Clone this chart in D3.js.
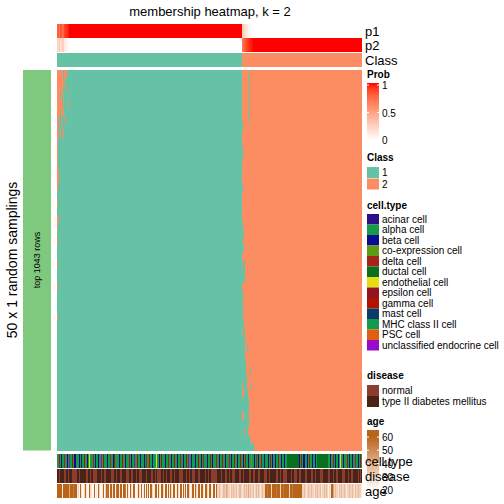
<!DOCTYPE html>
<html><head><meta charset="utf-8">
<script src="https://cdn.jsdelivr.net/npm/d3@7"></script>
<style>body{margin:0;background:#fff}svg{display:block}text{font-family:"Liberation Sans",Arial,sans-serif}</style>
</head><body>
<script>
// ---------------- data ----------------
const nClass1 = 185, nClass2 = 120;           // columns per consensus class
const nRows = 50;                              // random samplings
const p1HeadClass1 = [0.78,0.80,0.70,0.85,0.82,0.72,0.75,0.88,0.90,0.93,0.95,0.97];
const p1HeadClass2 = [0.30,0.25,0.22,0.15,0.12,0.10,0.07,0.05,0.03,0.02,0.01];
// per row: class-1 columns that were assigned to class 2 (intervals)
const leftOrange = [
 [[0,5],[7,9]],[[0,7]],[[0,5],[9,9]],[[0,2],[4,4],[6,6]],[[0,4],[6,6],[11,11]],
 [[0,2],[4,6]],[[0,1],[4,4],[7,7]],[[0,0],[2,2],[5,5]],[[0,1],[3,3],[6,6]],[[0,0]],
 [[0,0]],[[0,0]],[[0,0]],[[0,1]],[[0,1]],
 [[0,0]],[],[[0,0]],[],[[0,1]],[[0,0]],[],[[0,0]],[],[],
 [[0,0]],[],[],[[0,0]],[],[],[],[[0,0]],[],[],
 [],[],[],[],[],[],[],[],[],[],[],[],[],[],[]
];
// per row: number of leading class-2 columns assigned to class 1
const extraTeal = [0,0,0,0,0,0,0,1,0,0,1,1,0,0,0,1,0,0,0,0,1,2,1,2,1,3,3,3,0,1,1,1,1,2,3,3,3,3,4,4,5,5,6,7,7,7,7,6,8,12];
// per row: isolated class-2 columns assigned to class 1 (offset in class 2)
const isolatedTeal = {0:[7],1:[7],2:[7],3:[7],4:[7],5:[7],6:[7],36:[5],39:[8],41:[9]};
// per row: class-2 offsets inside the teal run that stay class 2
const tealGaps = {24:[0],25:[0],34:[0],41:[0],42:[0,1],45:[0,1],47:[3]};

const cellTypeNames = ["acinar cell","alpha cell","beta cell","co-expression cell","delta cell","ductal cell","endothelial cell","epsilon cell","gamma cell","mast cell","MHC class II cell","PSC cell","unclassified endocrine cell"];
const cellTypeCodes = ["a","A","b","c","d","D","e","E","g","m","M","p","u"];
const cellTypeColors = ["#2F0F88","#169B4B","#0B0B91","#5E9A12","#A6231A","#0A7020","#E6DC14","#921423","#B01400","#0C3A6A","#12994C","#E06010","#9A0ACA"];
const cellTypeSeq =
 "AAgAbAAdAAbAuAAgAbbA"+"AAbAaAAgAAbAeAAAdAbA"+"AbAAuAgAAAbAAdAAbgAA"+"AAbAAgAAbAAAdAbAAuAA"+
 "gAAbAAAbAdAAgAAbAAAe"+"AAbAgAAAbAAdAAbAAgAA"+"bAAdAAbAAgAuAAbAAAbA"+"AgAAbAdAAAbAAgAbAAAd"+
 "AAbAAgAAbAAAdAbAAgAA"+"bAAgA"+
 "AbAgAAbAAcAAbAdAbAAg"+"AAbAAAbAgAbAAbAAgAAbAAbAA"+"DDDDDDDDDDDD"+"bAgAbbAAbAgAAbAAbA"+
 "DDDDDDDDDDD"+"AAbAAgAbAAbAeAAbAAAgAbAAbAAdAAbAgA";
const diseaseNames = ["normal","type II diabetes mellitus"];
const diseaseColors = ["#8B3E30","#4A2318"];
const diseaseSeq =
 "ttnttttnnttntttnnnnnttnttttttnnttnttnnnnttttnttnntt"+"tttnnnttntttnnttttnnnttnntttnttnnnttttnttttnnttnt"+
 "nnnnttnttntttnnttnttttnnnntttnttnttnnntttnntttttn"+"ttnttnnnnnnttttntttnnttnttnnnttttnnttntttttnnttnn"+
 "tttnnttttnnnttnttttttnnttnttnnnnttttnttnnnttnnttt"+"tnnttttnnttnttttnnntttttnntttnttnnttttnnntttnttnnt"+
 "ttttntnt";
const ageCodes = {A:22,B:26,C:31,D:37,E:43,F:48,G:55,H:60};
const ageSeq =
 "HHHHHBHHHHHHEHHHGHHH"+"BCAHBAACHBAAHCBAAHAB"+"AHCAABHAC"+"HGHAHHBHHAGHHBHHAHHG"+
 "AHBAHCAHHAABHCAHABHA"+"HBHAHHCABHHAHBAHHCAH"+"HAHBHCAHHABHCAHHAHBH"+
 "AHHCABHHAHCBHHAHHBAH"+"HCAHHBAHHAHC"+"CDCBCDDCEDCCBDCDCCDB"+"CDDCBCDCDCECDCCDBCDC"+
 "DCBCDCCHHGHHHCHHHHGH"+"HHCHHGHHHHHCHHGHHHHH"+"HHHHCCDCBCDCCDCCBDCD"+"CCDBCCDCDC"+"ACBHHE"+
 "CDCCBDCDCCDCBCCDCCDCBDCCDCCB";

// ---------------- layout ----------------
const W = 504, H = 504;
const X0 = 57, X1 = 362;
const colTeal = "#66C2A5", colOrange = "#FC8D62";
const svg = d3.select("body").append("svg").attr("width", W).attr("height", H);

const nCol = nClass1 + nClass2;
const cols = d3.range(nCol);
const x = d3.scaleBand().domain(cols).range([X0, X1]);
const rows = d3.range(nRows);
const y = d3.scaleBand().domain(rows).range([70, 450.5]);
const probColor = d3.scaleLinear().domain([0,1]).range(["#ffffff","#ff0000"]).interpolate(d3.interpolateLab);

const p1 = cols.map(c => c < nClass1 ? (c < p1HeadClass1.length ? p1HeadClass1[c] : 1)
                                      : ((c-nClass1) < p1HeadClass2.length ? p1HeadClass2[c-nClass1] : 0));
const p2 = p1.map(v => 1 - v);
const consensus = cols.map(c => c < nClass1 ? 1 : 2);

// title
svg.append("text").attr("x", 210).attr("y", 16).attr("text-anchor","middle").attr("font-size", 13).text("membership heatmap, k = 2");

// top annotations
const annTop = [{name:"p1", vals:p1, y0:24, y1:38}, {name:"p2", vals:p2, y0:38, y1:52}];
annTop.forEach(a => {
  svg.append("g").attr("shape-rendering","crispEdges").selectAll("rect").data(cols).join("rect")
    .attr("x", c => x(c)).attr("width", x.bandwidth()+0.4)
    .attr("y", a.y0).attr("height", a.y1 - a.y0)
    .attr("fill", c => probColor(a.vals[c]));
  svg.append("text").attr("x", 365).attr("y", (a.y0+a.y1)/2 + 5).attr("font-size", 13).text(a.name);
});
svg.append("g").attr("shape-rendering","crispEdges").selectAll("rect").data(cols).join("rect")
  .attr("x", c => x(c)).attr("width", x.bandwidth()+0.4)
  .attr("y", 53).attr("height", 13.7)
  .attr("fill", c => consensus[c] === 1 ? colTeal : colOrange);
svg.append("text").attr("x", 365).attr("y", 65).attr("font-size", 13).text("Class");

// main matrix
function rowClasses(r) {
  const cl = consensus.slice();
  (leftOrange[r] || []).forEach(([a,b]) => { for (let c=a;c<=b;c++) cl[c] = 2; });
  for (let k=0;k<extraTeal[r];k++) cl[nClass1+k] = 1;
  (tealGaps[r] || []).forEach(k => { cl[nClass1+k] = 2; });
  (isolatedTeal[r] || []).forEach(k => { cl[nClass1+k] = 1; });
  return cl;
}
const gMain = svg.append("g").attr("shape-rendering","crispEdges");
rows.forEach(r => {
  const cl = rowClasses(r);
  const runs = [];
  let start = 0;
  for (let c=1;c<=nCol;c++) {
    if (c === nCol || cl[c] !== cl[start]) { runs.push({s:start, e:c-1, k:cl[start]}); start = c; }
  }
  gMain.append("g").selectAll("rect").data(runs).join("rect")
    .attr("x", d => x(d.s)).attr("width", d => x(d.e) + x.bandwidth() - x(d.s) + 0.3)
    .attr("y", y(r)).attr("height", y.bandwidth() + 0.5)
    .attr("fill", d => d.k === 1 ? colTeal : colOrange);
});

// left row-group bar
svg.append("rect").attr("x", 23).attr("y", 70).attr("width", 28).attr("height", 380.5).attr("fill", "#7FC97F");
svg.append("text").attr("transform","translate(40,260) rotate(-90)").attr("text-anchor","middle").attr("font-size", 9).text("top 1043 rows");
svg.append("text").attr("transform","translate(17,260) rotate(-90)").attr("text-anchor","middle").attr("font-size", 14).text("50 x 1 random samplings");

// bottom annotations
const ctColor = d3.scaleOrdinal().domain(cellTypeCodes).range(cellTypeColors);
const dsColor = d3.scaleOrdinal().domain(["n","t"]).range(diseaseColors);
const ageColor = d3.scaleLinear().domain([20,60]).range(["#ffffff","#B8651A"]).interpolate(d3.interpolateLab).clamp(true);
const ct = cellTypeSeq.split(""), ds = diseaseSeq.split(""), ag = ageSeq.split("").map(ch => ageCodes[ch]);
const bottom = [
  {name:"cell.type", y0:454, fill: c => ctColor(ct[c])},
  {name:"disease", y0:469, fill: c => dsColor(ds[c])},
  {name:"age", y0:484, fill: c => ageColor(ag[c])}
];
bottom.forEach(b => {
  svg.append("g").attr("shape-rendering","crispEdges").selectAll("rect").data(cols).join("rect")
    .attr("x", c => x(c)).attr("width", x.bandwidth()+0.4)
    .attr("y", b.y0).attr("height", 14)
    .attr("fill", b.fill);
});

// legends
const LX = 367;
function title(t, yy) { svg.append("text").attr("x", LX).attr("y", yy).attr("font-size", 10).attr("font-weight","bold").text(t); }
// Prob
title("Prob", 78);
const defs = svg.append("defs");
const gp = defs.append("linearGradient").attr("id","gprob").attr("x1",0).attr("x2",0).attr("y1",1).attr("y2",0);
d3.range(0,1.01,0.1).forEach(t => gp.append("stop").attr("offset", t).attr("stop-color", probColor(t)));
const probY = d3.scaleLinear().domain([0,1]).range([140, 85]);
svg.append("rect").attr("x", LX).attr("y", 83).attr("width", 12).attr("height", 57).attr("fill","url(#gprob)");
[0,0.5,1].forEach(v => {
  svg.append("line").attr("x1",LX).attr("x2",LX+2).attr("y1",probY(v)).attr("y2",probY(v)).attr("stroke","#fff");
  svg.append("line").attr("x1",LX+10).attr("x2",LX+12).attr("y1",probY(v)).attr("y2",probY(v)).attr("stroke","#fff");
  svg.append("text").attr("x", LX+15).attr("y", probY(v)+4).attr("font-size",10).text(v);
});
// Class
title("Class", 161);
[["1",colTeal],["2",colOrange]].forEach((d,i) => {
  svg.append("rect").attr("x",LX).attr("y",167+i*11.5).attr("width",12).attr("height",11).attr("fill",d[1]);
  svg.append("text").attr("x",LX+15).attr("y",176+i*11.5).attr("font-size",10).text(d[0]);
});
// cell.type
title("cell.type", 209);
cellTypeNames.forEach((n,i) => {
  svg.append("rect").attr("x",LX).attr("y",214+i*10.5).attr("width",12).attr("height",10.5).attr("fill",cellTypeColors[i]);
  svg.append("text").attr("x",LX+15).attr("y",222.5+i*10.5).attr("font-size",10).text(n);
});
// disease
title("disease", 379);
diseaseNames.forEach((n,i) => {
  svg.append("rect").attr("x",LX).attr("y",385+i*11).attr("width",12).attr("height",11).attr("fill",diseaseColors[i]);
  svg.append("text").attr("x",LX+15).attr("y",394+i*11).attr("font-size",10).text(n);
});
// age
title("age", 425);
const ga = defs.append("linearGradient").attr("id","gage").attr("x1",0).attr("x2",0).attr("y1",1).attr("y2",0);
const ageY = d3.scaleLinear().domain([20,60]).range([490, 437]);
d3.range(0,1.01,0.1).forEach(t => ga.append("stop").attr("offset", t).attr("stop-color", ageColor(ageY.invert(494 - t*64))));
svg.append("rect").attr("x", LX).attr("y", 430).attr("width", 12).attr("height", 64).attr("fill","url(#gage)");
[20,30,40,50,60].forEach(v => {
  svg.append("line").attr("x1",LX).attr("x2",LX+2).attr("y1",ageY(v)).attr("y2",ageY(v)).attr("stroke","#fff");
  svg.append("line").attr("x1",LX+10).attr("x2",LX+12).attr("y1",ageY(v)).attr("y2",ageY(v)).attr("stroke","#fff");
  svg.append("text").attr("x", LX+15).attr("y", ageY(v)+4).attr("font-size",10).text(v);
});
// bottom annotation names
bottom.forEach(b => svg.append("text").attr("x", 365).attr("y", b.y0 + 12).attr("font-size", 13).text(b.name));
</script>
</body></html>
